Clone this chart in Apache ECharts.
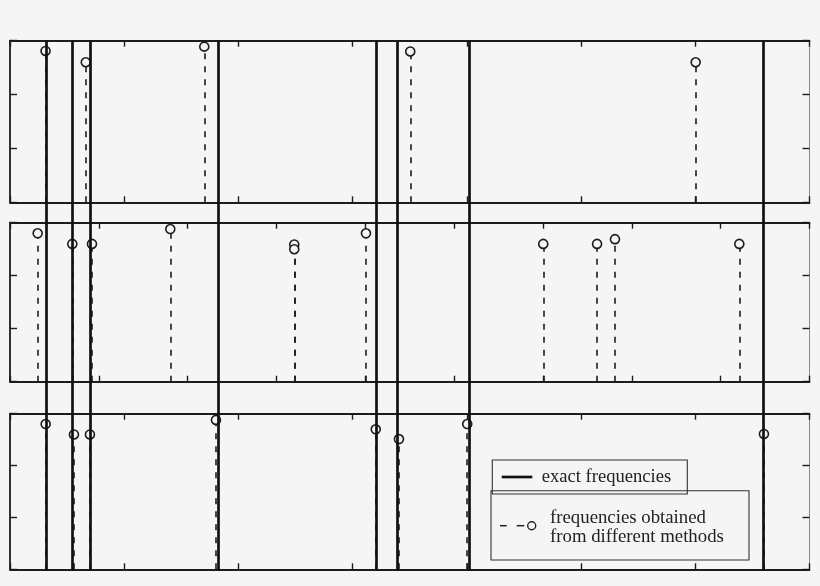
<!DOCTYPE html>
<html>
<head>
<meta charset="utf-8">
<script src="https://cdn.jsdelivr.net/npm/echarts@6/dist/echarts.min.js"></script>
<style>html,body{margin:0;padding:0;background:#f5f5f5;}#c{width:820px;height:586px;}</style>
</head>
<body>
<div id="c"></div>
<script>
// ---- data (x in frequency units, axis 0..63; y in amplitude units 0..3) ----
const exactFreqs = [2.88, 4.93, 6.34, 16.39, 28.84, 30.50, 36.17, 59.34];

const panel1X = [2.80, 5.97, 15.31, 31.54, 54.03];
const panel1Y = [2.81, 2.60, 2.89, 2.80, 2.60];

const panel2X = [2.18, 4.91, 6.46, 12.63, 22.40, 22.40, 28.05, 42.02, 46.26, 47.67, 57.47];
const panel2Y = [2.80, 2.60, 2.60, 2.88, 2.59, 2.50, 2.80, 2.60, 2.60, 2.69, 2.60];

const panel3X = [2.81, 5.04, 6.30, 16.23, 28.82, 30.65, 36.03, 59.41];
const panel3Y = [2.80, 2.60, 2.60, 2.88, 2.70, 2.51, 2.80, 2.61];

const xTickIntervals = [9, 7, 9];
const legendLabels = ['exact frequencies', 'frequencies obtained\nfrom different methods'];

// ---- layout ----
const BG = '#f5f5f5';
const INK = '#1c1c1c';
const gridsPx = [
  {top: 40.7, height: 161.6},
  {top: 222.7, height: 159.0},
  {top: 413.7, height: 155.6}
];
const LEFT = 10, WIDTH = 799.5;
const panels = [[panel1X, panel1Y], [panel2X, panel2Y], [panel3X, panel3Y]];

const grid = gridsPx.map(g => ({left: LEFT, width: WIDTH, top: g.top, height: g.height}));
grid.push({left: LEFT, width: WIDTH, top: gridsPx[0].top, height: gridsPx[2].top + gridsPx[2].height - gridsPx[0].top + 1.5});

const xAxis = [], yAxis = [];
function xa(gi, pos, interval) {
  return {type: 'value', gridIndex: gi, min: 0, max: 63, interval: interval, position: pos,
    axisLine: {show: true, onZero: false, lineStyle: {color: INK, width: 1.8}},
    axisTick: {show: true, inside: true, length: 6, lineStyle: {color: INK, width: 1.4}},
    axisLabel: {show: false}, splitLine: {show: false}};
}
function ya(gi, pos, right) {
  return {type: 'value', gridIndex: gi, min: 0, max: 3, interval: 1, position: pos,
    axisLine: {show: true, onZero: false, lineStyle: {color: right ? '#8a8a8a' : INK, width: right ? 1 : 1.8}},
    axisTick: {show: true, inside: true, length: 7, lineStyle: {color: INK, width: 1.4}},
    axisLabel: {show: false}, splitLine: {show: false}};
}
for (let i = 0; i < 3; i++) {
  xAxis.push(xa(i, 'bottom', xTickIntervals[i]));
  xAxis.push(xa(i, 'top', xTickIntervals[i]));
  yAxis.push(ya(i, 'left', false));
  yAxis.push(ya(i, 'right', true));
}
xAxis.push({type: 'value', gridIndex: 3, min: 0, max: 63, show: false});
yAxis.push({type: 'value', gridIndex: 3, min: 0, max: 1, show: false});

const series = [];
panels.forEach((p, i) => {
  const [xs, ys] = p;
  series.push({
    type: 'lines', coordinateSystem: 'cartesian2d', xAxisIndex: 2 * i, yAxisIndex: 2 * i,
    silent: true, z: 2,
    lineStyle: {color: INK, width: 1.6, type: [6, 7], opacity: 1},
    data: xs.map((x, k) => ({coords: [[x, 0], [x, ys[k]]]}))
  });
  series.push({
    type: 'scatter', xAxisIndex: 2 * i, yAxisIndex: 2 * i, z: 3,
    symbol: 'circle', symbolSize: 9,
    itemStyle: {color: BG, borderColor: INK, borderWidth: 1.6, opacity: 1},
    data: xs.map((x, k) => [x, ys[k]])
  });
});
series.push({
  type: 'lines', coordinateSystem: 'cartesian2d', xAxisIndex: 6, yAxisIndex: 6,
  silent: true, z: 5,
  lineStyle: {color: '#111', width: 2.7, type: 'solid', opacity: 1},
  data: exactFreqs.map(x => ({coords: [[x, 0], [x, 1]]}))
});

const legendFont1 = '18.6px "Liberation Serif", "Times New Roman", serif';
const legendFont2 = '18.8px "Liberation Serif", "Times New Roman", serif';
const graphic = [
  {type: 'rect', shape: {x: 492.3, y: 460, width: 195, height: 34}, style: {fill: null, stroke: '#333', lineWidth: 1.1}, z: 10},
  {type: 'line', shape: {x1: 501.7, y1: 477, x2: 532.3, y2: 477}, style: {stroke: '#111', lineWidth: 2.7}, z: 10},
  {type: 'text', x: 541.7, y: 477, style: {text: legendLabels[0], font: legendFont1, fill: '#222', verticalAlign: 'middle', textAlign: 'left'}, z: 10},
  {type: 'rect', shape: {x: 491, y: 490.7, width: 258, height: 69.3}, style: {fill: null, stroke: '#333', lineWidth: 1.1}, z: 10},
  {type: 'line', shape: {x1: 500, y1: 525.7, x2: 506.7, y2: 525.7}, style: {stroke: '#222', lineWidth: 1.5}, z: 10},
  {type: 'line', shape: {x1: 516.7, y1: 525.7, x2: 524.3, y2: 525.7}, style: {stroke: '#222', lineWidth: 1.5}, z: 10},
  {type: 'circle', shape: {cx: 531.7, cy: 525.7, r: 4}, style: {fill: null, stroke: '#222', lineWidth: 1.4}, z: 10},
  {type: 'text', x: 550, y: 527.5, style: {text: legendLabels[1], font: legendFont2, lineHeight: 19.6, fill: '#222', verticalAlign: 'middle', textAlign: 'left'}, z: 10}
];

const chart = echarts.init(document.getElementById('c'), null, {renderer: 'canvas'});
chart.setOption({
  backgroundColor: BG,
  animation: false,
  grid: grid,
  xAxis: xAxis,
  yAxis: yAxis,
  series: series,
  graphic: graphic
});
</script>
</body>
</html>
